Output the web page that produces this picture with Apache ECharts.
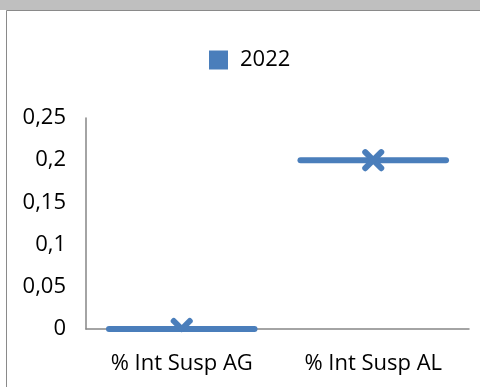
<!DOCTYPE html>
<html><head><meta charset="utf-8">
<script src="https://cdn.jsdelivr.net/npm/echarts@6/dist/echarts.min.js"></script>
<style>html,body{margin:0;padding:0;background:#fff}#c{width:480px;height:387px}</style>
</head><body><div id="c"></div>
<script>
const categories = ['% Int Susp AG', '% Int Susp AL'];
const seriesName = '2022';
const values = [0, 0.2];
const yTicks = { min: 0, max: 0.25, interval: 0.05 };

const color = '#4a7ebb';
const chart = echarts.init(document.getElementById('c'));
function clipSeg(x1, y1, x2, y2, yMax) {
  if (y1 > y2) { [x1, y1, x2, y2] = [x2, y2, x1, y1]; }
  if (y1 >= yMax) return null;
  if (y2 > yMax) { const t = (yMax - y1) / (y2 - y1); x2 = x1 + (x2 - x1) * t; y2 = yMax; }
  return { x1, y1, x2, y2 };
}
chart.setOption({
  animation: false,
  textStyle: { fontFamily: 'Open Sans' },
  graphic: [
    { type: 'rect', shape: { x: 0, y: 0, width: 480, height: 10 }, style: { fill: '#bfbfbf' }, silent: true },
    { type: 'line', shape: { x1: 6.5, y1: 10.5, x2: 480, y2: 10.5 }, style: { stroke: '#8a8a8a', lineWidth: 1 }, silent: true },
    { type: 'line', shape: { x1: 6.5, y1: 10.5, x2: 6.5, y2: 387 }, style: { stroke: '#8a8a8a', lineWidth: 1 }, silent: true }
  ],
  legend: {
    data: [{ name: seriesName, icon: 'rect' }],
    top: 44, left: 204,
    itemWidth: 19, itemHeight: 19, itemGap: 10,
    textStyle: { fontSize: 22, color: '#000', fontFamily: 'Open Sans', padding: [0, 0, 0, 7] }
  },
  grid: { left: 86, right: 11, top: 118, bottom: 58 },
  xAxis: {
    type: 'category', data: categories,
    axisLine: { lineStyle: { color: '#868686', width: 1.5 } },
    axisTick: { show: false },
    axisLabel: { fontSize: 22, color: '#000', margin: 24 }
  },
  yAxis: {
    type: 'value', min: yTicks.min, max: yTicks.max, interval: yTicks.interval,
    splitLine: { show: false },
    axisLine: { show: true, lineStyle: { color: '#868686', width: 1.5 } },
    axisTick: { show: false },
    axisLabel: { fontSize: 22, color: '#000', margin: 20, padding: [5, 0, 0, 0],
      formatter: v => String(+v.toFixed(2)).replace('.', ',') }
  },
  series: [{
    name: seriesName, type: 'custom',
    itemStyle: { color: color },
    data: values.map((v, i) => [i, v]),
    renderItem: function (params, api) {
      const p = api.coord([api.value(0), api.value(1)]);
      const bw = api.size([1, 0])[0];
      const half = bw * 0.38;
      const m = 8;
      const yMax = params.coordSys.y + params.coordSys.height;
      const st = { stroke: color, lineWidth: 6, lineCap: 'round' };
      const children = [
        { type: 'line', shape: { x1: p[0] - half, y1: p[1], x2: p[0] + half, y2: p[1] }, style: st }
      ];
      [[p[0] - m, p[1] - m, p[0] + m, p[1] + m], [p[0] - m, p[1] + m, p[0] + m, p[1] - m]].forEach(s => {
        const c = clipSeg(s[0], s[1], s[2], s[3], yMax);
        if (c) children.push({ type: 'line', shape: c, style: st });
      });
      return { type: 'group', children };
    }
  }]
});
</script></body></html>
